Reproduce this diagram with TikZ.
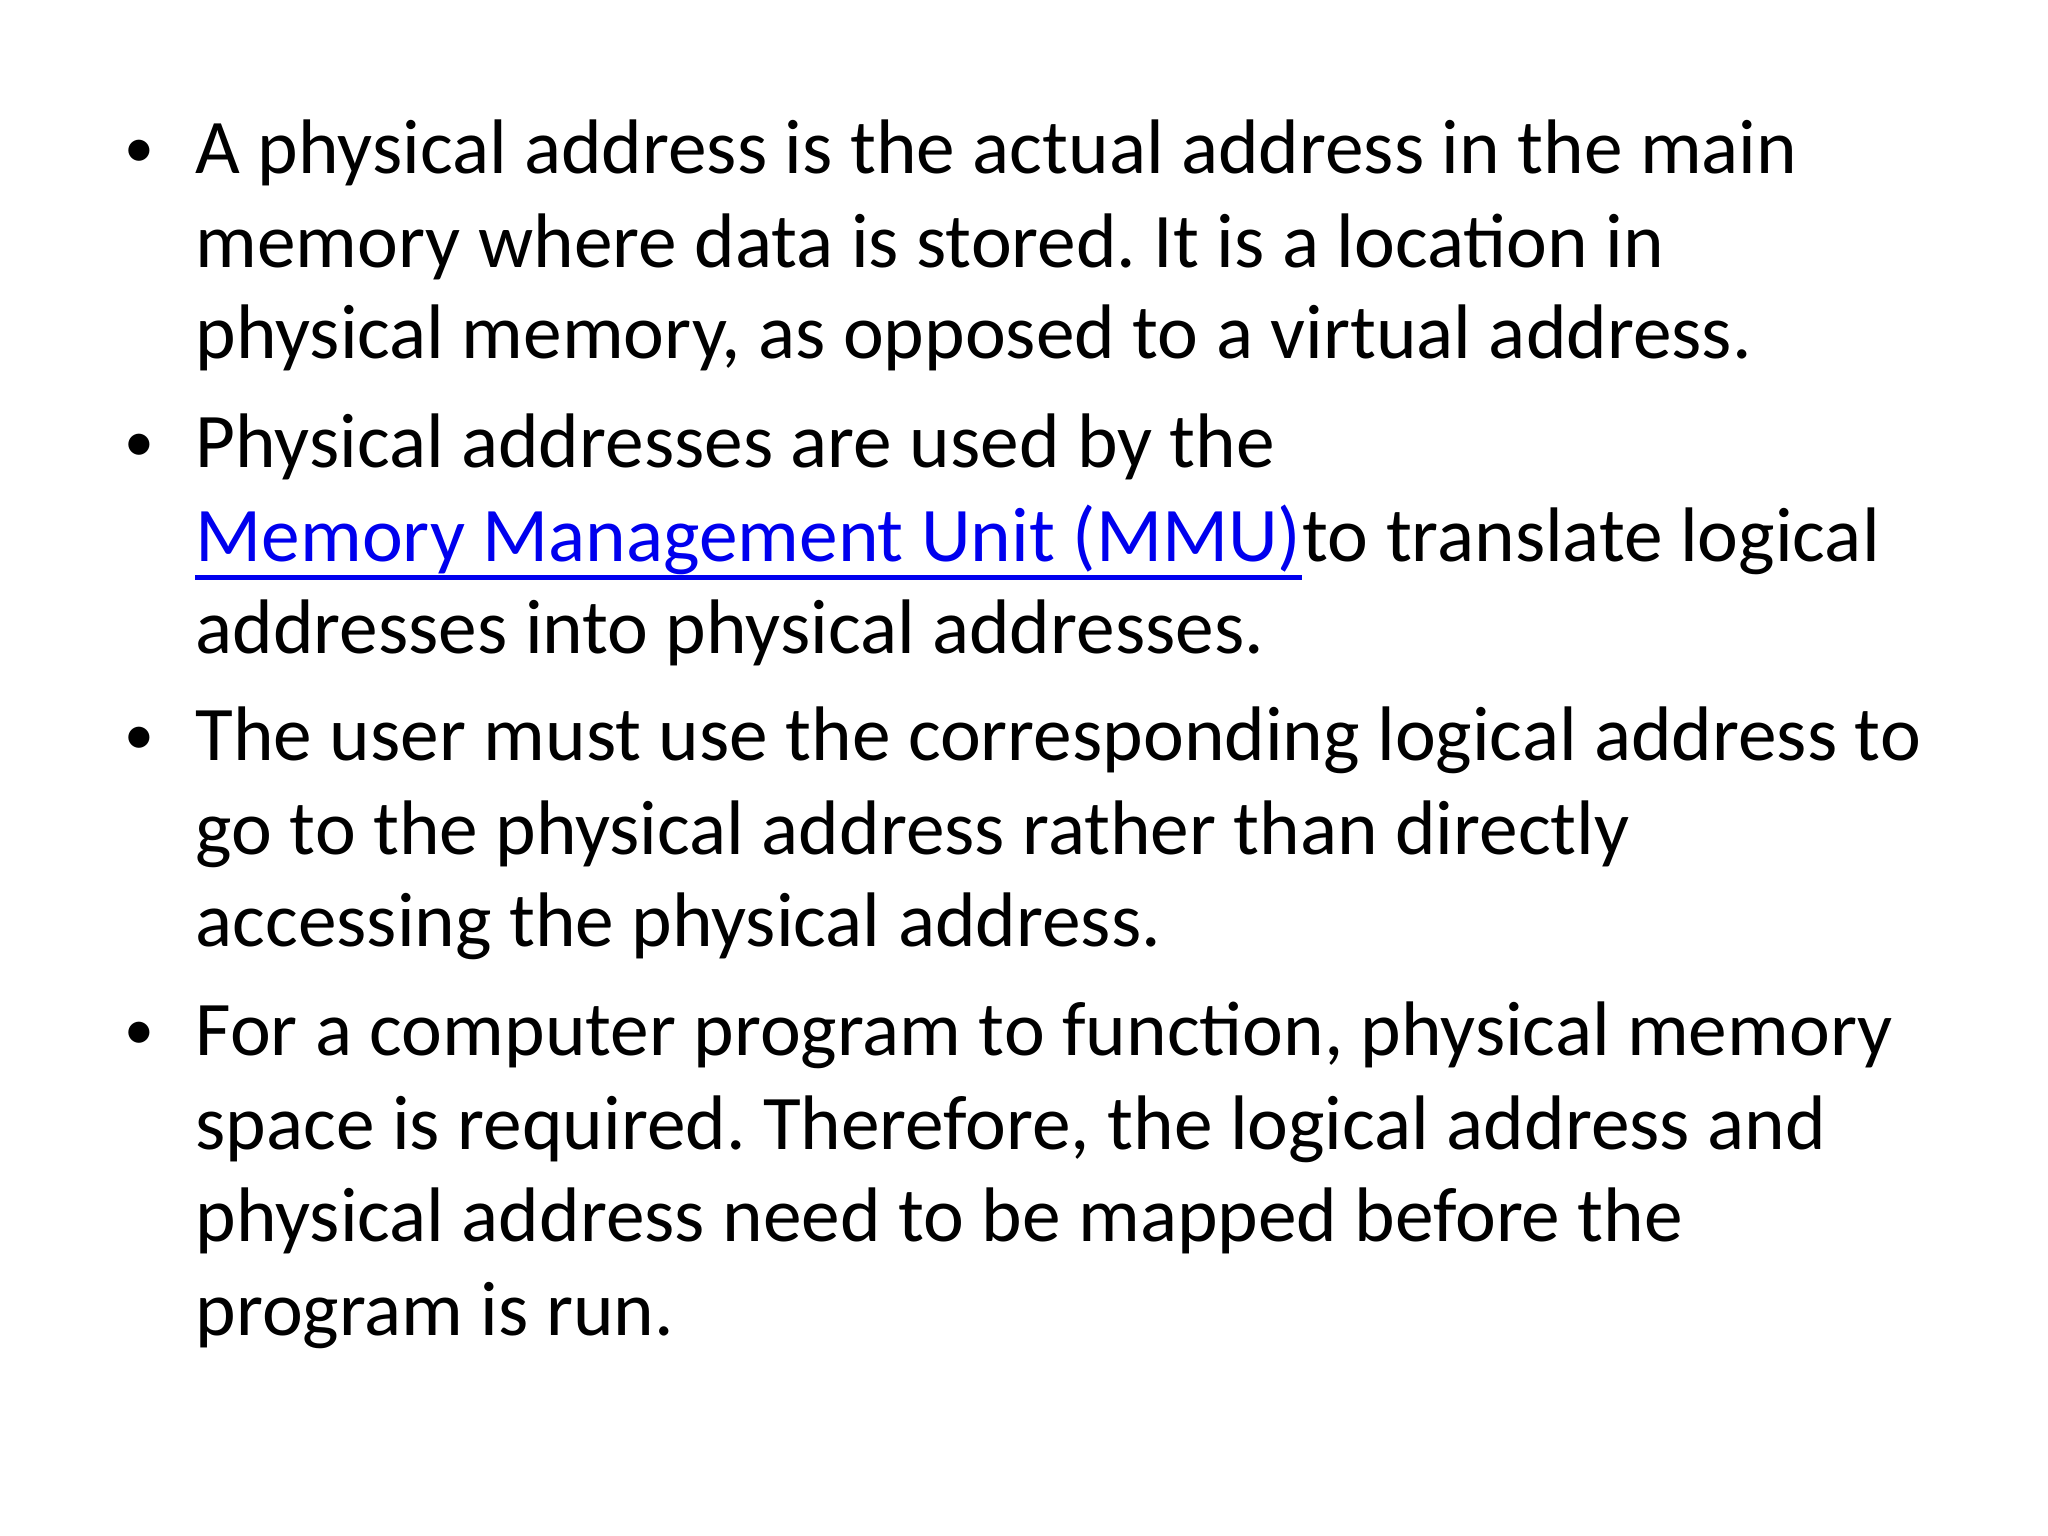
\documentclass[tikz,border=0pt]{standalone}
\usepackage{fontspec}
\setmainfont{Carlito}
\frenchspacing
\definecolor{linkblue}{RGB}{0,0,238}
\begin{document}
\begin{tikzpicture}[x=1cm,y=1cm,
  txt/.style={anchor=base west,inner sep=0pt,font=\fontsize{22}{26}\selectfont},
  bul/.style={anchor=base west,inner sep=0pt,font=\fontsize{17}{20}\selectfont}]
\useasboundingbox[fill=white] (0,0) rectangle (20.48,-15.36);
\foreach \n/\y in {b1/1.737,b2/4.675,b3/7.61,b4/10.55}
  \node[bul] (\n) at (1.24,-\y+0.06) {•};
\node[txt] (l1) at (1.95,-1.737) {A physical address is the actual address in the main};
\node[txt] (l2) at (1.95,-2.677) {memory where data is stored. It is a location in};
\node[txt] (l3) at (1.95,-3.59) {physical memory, as opposed to a virtual address.};
\node[txt] (l4) at (1.95,-4.675) {Physical addresses are used by the};
\node[txt,text=linkblue] (l5a) at (1.95,-5.616) {Memory Management Unit (MMU)\ };
\node[txt] (l5) at (l5a.base east) {to translate logical};
\coordinate (u1) at ([yshift=-0.16cm]l5a.base west);
\coordinate (u2) at ([yshift=-0.16cm]l5a.base east);
\draw[linkblue,line width=1.6pt] (u1) -- (u2);
\node[txt] (l6) at (1.95,-6.53) {addresses into physical addresses.};
\node[txt] (l7) at (1.95,-7.61) {The user must use the corresponding logical address to};
\node[txt] (l8) at (1.95,-8.55) {go to the physical address rather than directly};
\node[txt] (l9) at (1.95,-9.47) {accessing the physical address.};
\node[txt] (l10) at (1.95,-10.55) {For a computer program to function, physical memory};
\node[txt] (l11) at (1.95,-11.49) {space is required. Therefore, the logical address and};
\node[txt] (l12) at (1.95,-12.41) {physical address need to be mapped before the};
\node[txt] (l13) at (1.95,-13.35) {program is run.};
\end{tikzpicture}
\end{document}
